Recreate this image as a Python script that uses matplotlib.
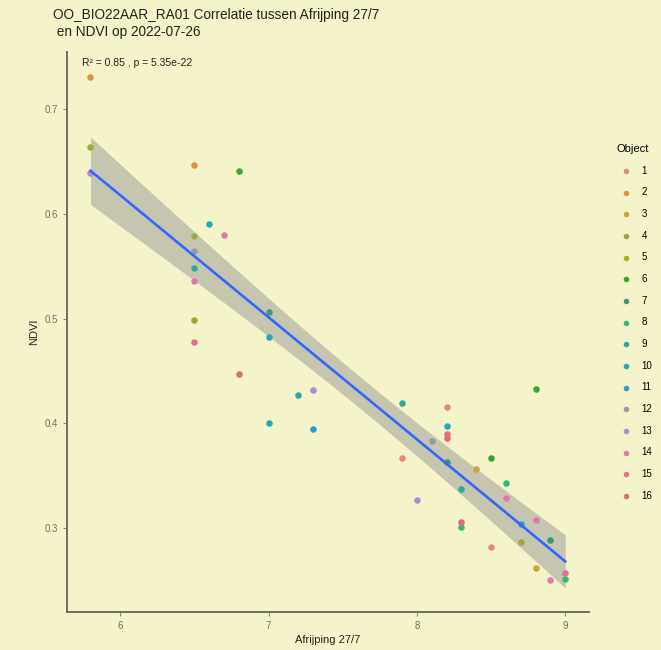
import numpy as np
import matplotlib
matplotlib.use("Agg")
import matplotlib.pyplot as plt

plt.rcParams['font.family'] = ['Liberation Sans', 'DejaVu Sans']

# Afrijping 27/7 score, NDVI and object number per plot
afrijping = [5.8, 5.8, 5.8, 6.5, 6.8, 6.6, 6.7, 6.5, 6.5, 6.5, 6.5, 6.5, 6.5,
             7.0, 7.0, 6.8, 7.2, 7.3, 7.0, 7.3, 7.9, 8.2, 8.2, 8.2, 8.2, 8.8,
             8.1, 7.9, 8.2, 8.5, 8.4, 8.6, 8.3, 8.6, 8.0, 8.3, 8.3, 8.8, 8.7,
             8.7, 8.9, 8.5, 8.8, 9.0, 8.9, 9.0]
ndvi = [0.731, 0.664, 0.639, 0.647, 0.641, 0.590, 0.580, 0.579, 0.565, 0.548,
        0.536, 0.499, 0.478, 0.506, 0.482, 0.447, 0.427, 0.432, 0.400, 0.394,
        0.419, 0.415, 0.397, 0.390, 0.386, 0.433, 0.383, 0.367, 0.363, 0.367,
        0.356, 0.343, 0.337, 0.328, 0.326, 0.305, 0.301, 0.307, 0.303, 0.286,
        0.288, 0.281, 0.261, 0.257, 0.250, 0.251]
objects = [2, 5, 13, 2, 6, 10, 14, 5, 12, 9, 14, 4, 15, 7, 10, 16, 9, 13, 10, 11,
           9, 1, 10, 15, 16, 6, 12, 1, 7, 6, 3, 8, 9, 14, 13, 16, 8, 14, 11, 4,
           7, 1, 3, 15, 14, 8]

object_labels = [str(i) for i in range(1, 17)]
object_colors = ['#E8857C', '#E0904A', '#C8A53A', '#A3A33A', '#9CB038', '#2DAA2D',
                 '#3A9A6E', '#2DBA7A', '#2AA89A', '#20A8C0', '#2C9BD0', '#9A98A8',
                 '#B08AD0', '#E07AA8', '#E0708E', '#E06A72']

title = "OO_BIO22AAR_RA01 Correlatie tussen Afrijping 27/7\n en NDVI op 2022-07-26"
stat_text = "R² = 0.85 , p = 5.35e-22"

bg = '#F4F3C9'
x = np.array(afrijping)
y = np.array(ndvi)

fig = plt.figure(figsize=(6.61, 6.5), dpi=100, facecolor=bg)
ax = fig.add_axes([0.101, 0.058, 0.79, 0.862], facecolor=bg)

# linear fit with 95% confidence band (like geom_smooth(method='lm'))
n = len(x)
b, a = np.polyfit(x, y, 1)
resid = y - (a + b * x)
s = np.sqrt(np.sum(resid ** 2) / (n - 2))
t_crit = 2.015
xs = np.linspace(x.min(), x.max(), 100)
fit = a + b * xs
se = s * np.sqrt(1 / n + (xs - x.mean()) ** 2 / np.sum((x - x.mean()) ** 2))
ax.fill_between(xs, fit - t_crit * se, fit + t_crit * se, color='#999999',
                alpha=0.5, lw=0, zorder=2)

for i, lab in enumerate(object_labels):
    idx = [k for k, o in enumerate(objects) if o == i + 1]
    ax.scatter(x[idx], y[idx], s=22, color=object_colors[i], label=lab,
               lw=0, zorder=3)

ax.plot(xs, fit, color='#3366FF', lw=1.9, zorder=4)

ax.set_xlim(5.64, 9.16)
ax.set_ylim(0.219, 0.755)
ax.set_xticks([6, 7, 8, 9])
ax.set_yticks([0.3, 0.4, 0.5, 0.6, 0.7])
ax.set_yticklabels(['0.3', '0.4', '0.5', '0.6', '0.7'])
for side in ['top', 'right']:
    ax.spines[side].set_visible(False)
for side in ['left', 'bottom']:
    ax.spines[side].set_color('#6E6E5E')
    ax.spines[side].set_linewidth(1.4)
ax.tick_params(colors='#8A8A7A', labelsize=7, length=3, width=0.8,
               labelcolor='#6E6E6E')

ax.set_xlabel("Afrijping 27/7", fontsize=8, color='#222222', labelpad=3)
ax.set_ylabel("NDVI", fontsize=8, color='#222222', labelpad=4)

ax.text(0.03, 0.99, stat_text, transform=ax.transAxes, fontsize=7.5,
        ha='left', va='top', color='#222222')

fig.text(0.08, 0.988, title, fontsize=9.8, ha='left', va='top',
         color='#222222', linespacing=1.25)

leg = fig.legend(loc='upper left', bbox_to_anchor=(0.919, 0.792),
                 title='Object', frameon=False, fontsize=7, title_fontsize=8,
                 labelspacing=1.2, handletextpad=0.6, markerscale=0.85)
leg._legend_box.align = 'left'

fig.savefig('out.png', dpi=100, facecolor=bg)
